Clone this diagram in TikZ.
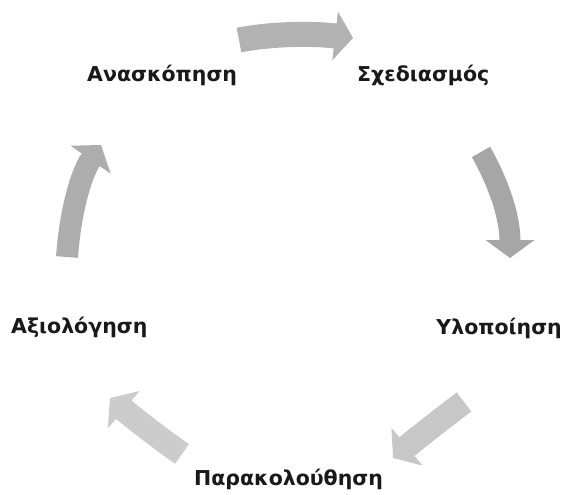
\documentclass[tikz,border=0pt]{standalone}
\usepackage{fontspec}
\setmainfont{DejaVu Sans}
\usetikzlibrary{arrows.meta}
\begin{document}
\begin{tikzpicture}[x=1pt,y=-1pt,
  lbl/.style={font=\bfseries\fontsize{20.5}{24}\selectfont, inner sep=0pt, anchor=base west, text=black!90},
  bigarrow/.style={draw=#1, line width=24pt, line cap=butt,
     -{Triangle[length=18pt,width=48pt,color=#1,fill=#1]}}]
\useasboundingbox[fill=white] (0,0) rectangle (563,495);

% labels
\node[lbl] (anaskopisi) at (87,82) {Ανασκόπηση};
\node[lbl] (schediasmos) at (357,82) {Σχεδιασμός};
\node[lbl, anchor=base east] (ylopoiisi) at (562,334) {Υλοποίηση};
\node[lbl] (parakolouthisi) at (194,485) {Παρακολούθηση};
\node[lbl] (axiologisi) at (11,333) {Αξιολόγηση};

% arrow end points
\coordinate (a1s) at (239,40);  \coordinate (a1e) at (353,38);
\coordinate (a2s) at (481,152); \coordinate (a2e) at (510,258);
\coordinate (a3s) at (464,402); \coordinate (a3e) at (393,458);
\coordinate (a4s) at (182,454); \coordinate (a4e) at (110,398);
\coordinate (a5s) at (67,257);  \coordinate (a5e) at (101,145);

\draw[bigarrow=black!30, line width=25pt] (a1s) .. controls (270,34) and (310,33) .. (a1e);
\draw[bigarrow=black!35, line width=21pt] (a2s) .. controls (497,180) and (510,215) .. (a2e);
\draw[bigarrow=black!22, line width=24pt] (a3s) .. controls (440,420) and (415,440) .. (a3e);
\draw[bigarrow=black!20, line width=24pt] (a4s) .. controls (155,435) and (130,415) .. (a4e);
\draw[bigarrow=black!32, line width=22pt] (a5s) .. controls (70,215) and (80,175) .. (a5e);
\end{tikzpicture}
\end{document}
